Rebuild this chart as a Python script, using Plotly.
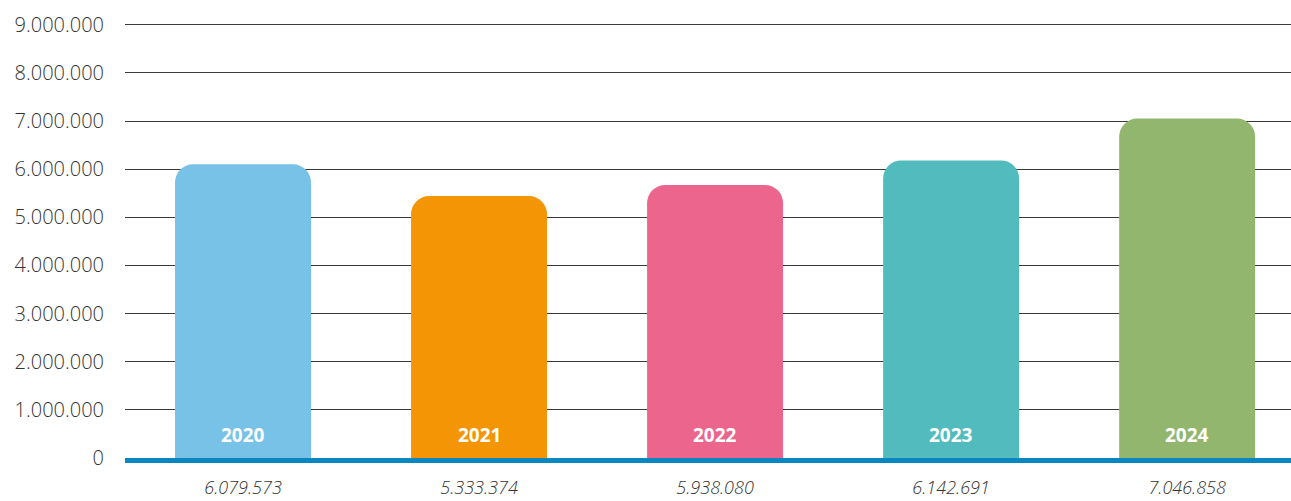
import plotly.graph_objects as go

years = ["2020", "2021", "2022", "2023", "2024"]
bar_heights = [6100000, 5440000, 5670000, 6180000, 7050000]
value_labels = ["6.079.573", "5.333.374", "5.938.080", "6.142.691", "7.046.858"]
colors = ["#78c1e7", "#f39505", "#ec658c", "#52bbbe", "#92b66e"]
y_ticks = [0, 1000000, 2000000, 3000000, 4000000, 5000000, 6000000, 7000000, 8000000, 9000000]
y_tick_text = ["0", "1.000.000", "2.000.000", "3.000.000", "4.000.000", "5.000.000",
               "6.000.000", "7.000.000", "8.000.000", "9.000.000"]

x_idx = list(range(len(years)))

fig = go.Figure()
fig.add_trace(go.Bar(
    x=x_idx, y=bar_heights,
    marker=dict(color=colors, line=dict(width=0)),
    hoverinfo="skip",
))

for i, yr in enumerate(years):
    fig.add_annotation(
        x=i, y=0, xref="x", yref="y", text="<b>" + yr + "</b>",
        showarrow=False, yanchor="bottom", yshift=8,
        font=dict(family="Open Sans", size=19, color="white"),
    )

fig.update_layout(
    width=1291, height=501,
    margin=dict(l=125, r=0, t=22, b=43, autoexpand=False),
    plot_bgcolor="white", paper_bgcolor="white",
    showlegend=False,
    bargap=0.424,
    barcornerradius=18,
    font=dict(family="Open Sans", color="#333333"),
    xaxis=dict(
        range=[-0.5, 4.44], automargin=False,
        tickmode="array", tickvals=x_idx, ticktext=value_labels,
        tickfont=dict(size=18, style="italic", color="#333333", family="Open Sans", weight=300),
        showgrid=False, zeroline=False,
        showline=True, linecolor="#0a86c0", linewidth=5,
        ticks="", ticklabelstandoff=9,
    ),
    yaxis=dict(
        range=[0, 9057000], automargin=False,
        tickmode="array", tickvals=y_ticks, ticktext=y_tick_text,
        tickfont=dict(size=20, color="#333333", family="Open Sans", weight=300),
        showgrid=True, gridcolor="#3a3a3a", gridwidth=1,
        zeroline=False, showline=False, ticks="",
        ticklabelstandoff=20,
    ),
)

fig.write_html("out.html", config={"displayModeBar": False},
               post_script="document.body.style.margin='0';")
